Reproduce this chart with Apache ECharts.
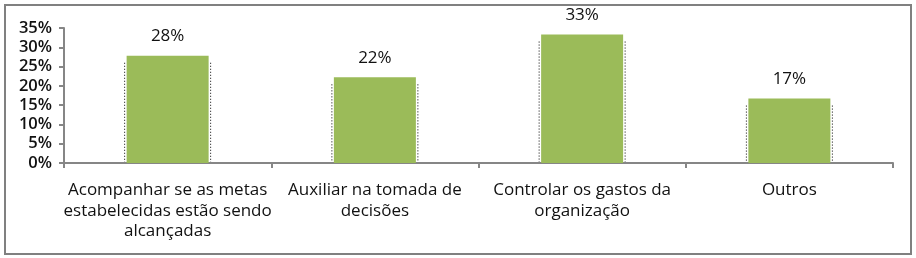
<!DOCTYPE html>
<html>
<head>
<meta charset="utf-8">
<script src="https://cdn.jsdelivr.net/npm/echarts@6/dist/echarts.min.js"></script>
<style>
  html, body { margin: 0; padding: 0; background: #fff; }
  #chart { width: 916px; height: 258px; }
</style>
</head>
<body>
<div id="chart"></div>
<script>
// categorias (quebras de linha como no original)
var categories = [
  'Acompanhar se as metas\nestabelecidas estão sendo\nalcançadas',
  'Auxiliar na tomada de\ndecisões',
  'Controlar os gastos da\norganização',
  'Outros'
];
// percentuais (%)
var values = [27.8, 22.2, 33.3, 16.7];

var chart = echarts.init(document.getElementById('chart'));
var font = '"Open Sans", Lato, sans-serif';

chart.setOption({
  animation: false,
  textStyle: { fontFamily: font },
  graphic: [{
    type: 'rect',
    shape: { x: 5, y: 5, width: 906, height: 249 },
    style: { fill: 'none', stroke: '#808080', lineWidth: 2 },
    silent: true
  }],
  grid: { left: 64, right: 23, top: 28, bottom: 95 },
  xAxis: {
    type: 'category',
    data: categories,
    axisLine: { lineStyle: { color: '#868686', width: 2 } },
    axisTick: { show: true, length: 5, lineStyle: { color: '#868686', width: 2 } },
    axisLabel: {
      interval: 0,
      color: '#111',
      fontSize: 17,
      fontWeight: 500,
      lineHeight: 20.5,
      margin: 17,
      fontFamily: font
    }
  },
  yAxis: {
    type: 'value',
    min: 0,
    max: 35,
    interval: 5,
    axisLine: { show: true, lineStyle: { color: '#868686', width: 2 } },
    axisTick: { show: true, length: 5, lineStyle: { color: '#868686', width: 2 } },
    splitLine: { show: false },
    axisLabel: {
      color: '#111',
      fontSize: 16.5,
      fontWeight: 600,
      margin: 12,
      fontFamily: font,
      formatter: '{value}%'
    }
  },
  series: [
    {
      type: 'bar',
      data: values,
      barWidth: 82,
      itemStyle: { color: '#9BBB59' },
      label: {
        show: true,
        position: 'top',
        distance: 11,
        color: '#111',
        fontSize: 17,
        fontWeight: 500,
        fontFamily: font,
        formatter: function (p) { return Math.round(p.value) + '%'; }
      }
    },
    {
      // linhas pontilhadas nas laterais das barras
      type: 'custom',
      silent: true,
      z: 3,
      data: values,
      renderItem: function (params, api) {
        var top = api.coord([api.value(0), api.value(1)]);
        var base = api.coord([api.value(0), 0]);
        var half = 43;
        var y0 = top[1] + 7;
        var style = { stroke: '#000', lineWidth: 1, lineDash: [1, 2] };
        return {
          type: 'group',
          children: [
            { type: 'line', shape: { x1: top[0] - half, y1: y0, x2: top[0] - half, y2: base[1] - 1 }, style: style },
            { type: 'line', shape: { x1: top[0] + half, y1: y0, x2: top[0] + half, y2: base[1] - 1 }, style: style }
          ]
        };
      },
      encode: { x: 0, y: 1 }
    }
  ]
});
</script>
</body>
</html>
